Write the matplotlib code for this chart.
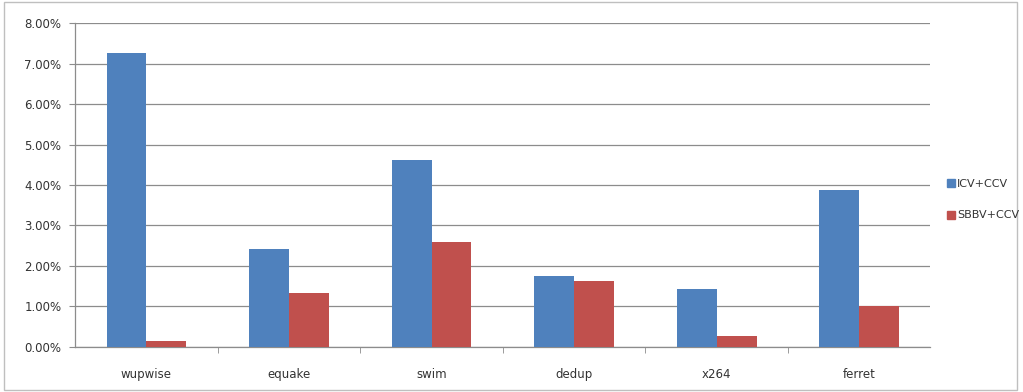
import matplotlib
matplotlib.use("Agg")
import matplotlib.pyplot as plt
from matplotlib.lines import Line2D
from matplotlib.patches import Rectangle
import numpy as np

categories = ["wupwise", "equake", "swim", "dedup", "x264", "ferret"]
icv_ccv = [7.26, 2.42, 4.63, 1.76, 1.43, 3.88]
sbbv_ccv = [0.15, 1.33, 2.60, 1.62, 0.26, 1.01]
y_ticks = [0, 1, 2, 3, 4, 5, 6, 7, 8]
series_names = ["ICV+CCV", "SBBV+CCV"]

blue = "#4F81BD"
red = "#C0504D"
grid = "#8C8C8C"
text_c = "#333333"

fig = plt.figure(figsize=(10.23, 3.92), dpi=100)
ax = fig.add_axes([0.0735, 0.115, 0.836, 0.826])

x = np.arange(len(categories))
w = 0.28
ax.bar(x - w / 2, icv_ccv, width=w, color=blue, zorder=3)
ax.bar(x + w / 2, sbbv_ccv, width=w, color=red, zorder=3)

ax.set_xlim(-0.5, len(categories) - 0.5)
ax.set_ylim(0, 8)
ax.set_yticks(y_ticks)
ax.set_yticklabels([f"{v:.2f}%" for v in y_ticks], fontsize=8.5, color=text_c)
ax.yaxis.grid(True, color=grid, linewidth=0.9, zorder=0)

ax.set_xticks(x)
ax.set_xticklabels(categories, fontsize=8.5, color=text_c)
ax.tick_params(axis="x", length=0, pad=15)
ax.set_xticks(np.arange(0.5, len(categories) - 0.5, 1), minor=True)
ax.tick_params(axis="x", which="minor", length=4, color=grid, direction="out")
ax.tick_params(axis="y", length=4, color=grid, direction="out", pad=6)

for s in ["top", "right"]:
    ax.spines[s].set_visible(False)
for s in ["left", "bottom"]:
    ax.spines[s].set_color(grid)
    ax.spines[s].set_linewidth(0.9)

handles = [Line2D([0], [0], marker="s", linestyle="none", markersize=6,
                  markerfacecolor=c, markeredgecolor=c) for c in (blue, red)]
fig.legend(handles, series_names, loc="center left", bbox_to_anchor=(0.914, 0.49),
           frameon=False, fontsize=8, handletextpad=0.1, labelspacing=1.9,
           handlelength=1.0, labelcolor=text_c)

fig.patches.append(Rectangle((0.004, 0.006), 0.99, 0.988, transform=fig.transFigure,
                             fill=False, edgecolor="#BFBFBF", linewidth=1))

fig.savefig("out.png", dpi=100)
